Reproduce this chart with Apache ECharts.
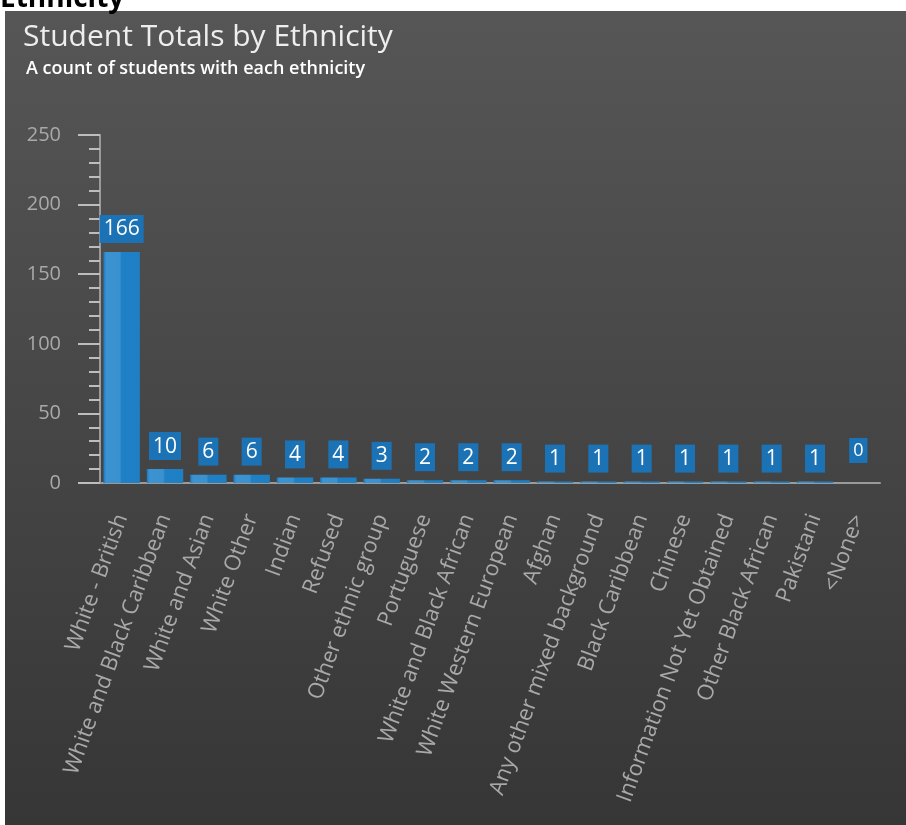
<!DOCTYPE html>
<html>
<head>
<meta charset="utf-8">
<script src="https://cdn.jsdelivr.net/npm/echarts@6/dist/echarts.min.js"></script>
<style>
  html, body { margin: 0; padding: 0; background: #ffffff; }
  #chart { width: 906px; height: 825px; }
</style>
</head>
<body>
<div id="chart"></div>
<script>
// 各族裔的学生数量
const ethnicities = [
  'White - British', 'White and Black Caribbean', 'White and Asian', 'White Other',
  'Indian', 'Refused', 'Other ethnic group', 'Portuguese', 'White and Black African',
  'White Western European', 'Afghan', 'Any other mixed background', 'Black Caribbean',
  'Chinese', 'Information Not Yet Obtained', 'Other Black African', 'Pakistani', '<None>'
]
const studentCounts = [166, 10, 6, 6, 4, 4, 3, 2, 2, 2, 1, 1, 1, 1, 1, 1, 1, 0]
const yTicks = { min: 0, max: 250, step: 50 }

const textFont = '"Open Sans", "Noto Sans", sans-serif'
const axisGrey = '#a9a9a9'

var chartDom = document.getElementById('chart')
var myChart = echarts.init(chartDom)
var option

// 柱子带一条浅色的高光
const barColor = new echarts.graphic.LinearGradient(0, 0, 1, 0, [
  { offset: 0, color: '#1d79bf' },
  { offset: 0.08, color: '#3c93d1' },
  { offset: 0.45, color: '#3a91cf' },
  { offset: 0.5, color: '#1f80c6' },
  { offset: 1, color: '#1f7fc4' }
])

option = {
  animation: false,
  textStyle: { fontFamily: textFont },
  graphic: [
    {
      type: 'rect',
      z: -10,
      shape: { x: 5, y: 11, width: 901, height: 814 },
      style: {
        fill: new echarts.graphic.LinearGradient(0, 0, 0, 1, [
          { offset: 0, color: '#565656' },
          { offset: 1, color: '#363636' }
        ])
      }
    },
    {
      type: 'text',
      z: 10,
      style: {
        text: 'Ethnicity',
        x: 0,
        y: 13,
        verticalAlign: 'bottom',
        font: 'bold 28px "Open Sans", sans-serif',
        fill: '#000000'
      }
    }
  ],
  title: [
    {
      text: 'Student Totals by Ethnicity',
      left: 23,
      top: 22,
      padding: 0,
      textStyle: { color: '#eeeeee', fontSize: 30, fontWeight: 'normal', fontFamily: textFont }
    },
    {
      text: 'A count of students with each ethnicity',
      left: 26,
      top: 60,
      padding: 0,
      textStyle: { color: '#ffffff', fontSize: 18, fontWeight: 600, fontFamily: textFont }
    }
  ],
  grid: { left: 100, right: 26, top: 135, bottom: 342, containLabel: false },
  xAxis: {
    type: 'category',
    data: ethnicities,
    axisLine: { lineStyle: { color: '#9a9a9a', width: 2 } },
    axisTick: { length: 17, lineStyle: { color: '#bdbdbd', width: 2 } },
    axisLabel: {
      rotate: 70,
      interval: 0,
      margin: 32,
      color: axisGrey,
      fontSize: 22,
      fontFamily: textFont
    }
  },
  yAxis: {
    type: 'value',
    min: yTicks.min,
    max: yTicks.max,
    interval: yTicks.step,
    axisLine: { show: true, lineStyle: { color: '#9a9a9a', width: 2 } },
    axisTick: { show: true, length: 22, lineStyle: { color: '#bdbdbd', width: 2 } },
    minorTick: { show: true, splitNumber: 5, length: 11, lineStyle: { color: '#bdbdbd', width: 2 } },
    splitLine: { show: false },
    axisLabel: { margin: 39, color: axisGrey, fontSize: 20, fontFamily: textFont }
  },
  series: [
    {
      type: 'bar',
      data: studentCounts.map(v => v === 0 ? { value: v, label: { distance: 20, fontSize: 18 } } : v),
      barCategoryGap: '16%',
      itemStyle: { color: barColor },
      label: {
        show: true,
        position: 'top',
        distance: 9,
        color: '#ffffff',
        fontSize: 21,
        fontFamily: textFont,
        backgroundColor: '#1b72b4',
        padding: [4, 4, 3, 4]
      }
    }
  ]
}

option && myChart.setOption(option)
</script>
</body>
</html>
